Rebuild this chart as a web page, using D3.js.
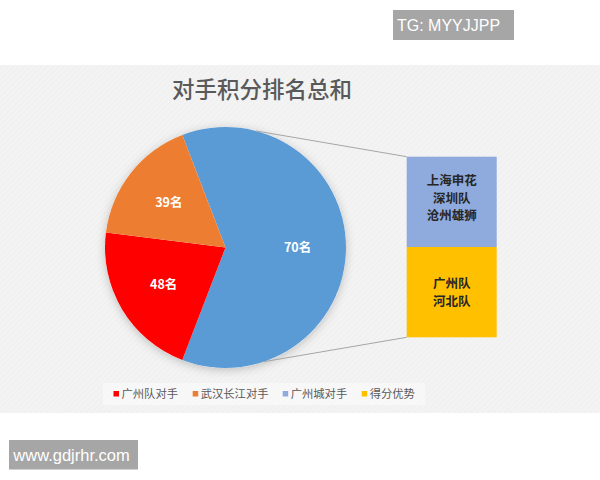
<!DOCTYPE html>
<html>
<head>
<meta charset="utf-8">
<script src="https://cdn.jsdelivr.net/npm/d3@7"></script>
<style>
  body { margin: 0; background: #fff; }
  text { font-family: "Noto Sans CJK SC", "Noto Sans", sans-serif; }
</style>
</head>
<body>
<div id="chart"></div>
<script>
// categories and values
const categories = ["广州队对手", "武汉长江对手", "广州城对手", "得分优势"];
const values = [48, 39, 70, 70];
const pieLabels = ["70名", "48名", "39名"];
const barLabels = [["上海申花", "深圳队", "沧州雄狮"], ["广州队", "河北队"]];
const colors = ["#ff0000", "#ed7d31", "#8faadc", "#ffc000"];
const otherColor = "#5b9bd5";

const w = 600, h = 480;
const cx = 225.5, cy = 247.5, r = 120.5;

const svg = d3.select("#chart").append("svg")
    .attr("width", w)
    .attr("height", h);

const defs = svg.append("defs");
const pat = defs.append("pattern")
    .attr("id", "tex")
    .attr("width", 4).attr("height", 4)
    .attr("patternUnits", "userSpaceOnUse")
    .attr("patternTransform", "rotate(45)");
pat.append("rect").attr("width", 4).attr("height", 4).attr("fill", "#f3f3f3");
pat.append("line").attr("x1", 0).attr("y1", 0).attr("x2", 0).attr("y2", 4)
    .attr("stroke", "#ebebeb").attr("stroke-width", 1);

const shadow = defs.append("filter").attr("id", "shadow")
    .attr("x", "-20%").attr("y", "-20%").attr("width", "140%").attr("height", "140%");
shadow.append("feDropShadow")
    .attr("dx", 0).attr("dy", 2)
    .attr("stdDeviation", 5)
    .attr("flood-color", "#000")
    .attr("flood-opacity", 0.22);

// chart panel
svg.append("rect")
    .attr("x", 0).attr("y", 65)
    .attr("width", w).attr("height", 348)
    .attr("fill", "url(#tex)");

svg.append("text")
    .attr("x", 262).attr("y", 98)
    .attr("text-anchor", "middle")
    .style("font-size", "22.5px")
    .style("font-weight", "500")
    .attr("fill", "#595959")
    .text("对手积分排名总和");

// pie: the two main series plus the combined "other" slice
const otherValue = values[2] + values[3];
const pieData = [
    { name: "other", value: otherValue, color: otherColor },
    { name: categories[0], value: values[0], color: colors[0] },
    { name: categories[1], value: values[1], color: colors[1] }
];
const total = d3.sum(pieData, d => d.value);
const start = Math.PI / 2 - Math.PI * otherValue / total;

const pie = d3.pie()
    .sort(null)
    .value(d => d.value)
    .startAngle(start)
    .endAngle(start + 2 * Math.PI);
const arcs = pie(pieData);

const arc = d3.arc().innerRadius(0).outerRadius(r);
const labelArc = d3.arc().innerRadius(72).outerRadius(72);

const g = svg.append("g").attr("transform", "translate(" + cx + "," + cy + ")");

g.append("circle").attr("r", r).attr("fill", "#fff").attr("filter", "url(#shadow)");

g.selectAll("path")
    .data(arcs)
    .enter()
    .append("path")
    .attr("d", arc)
    .attr("fill", d => d.data.color);

g.selectAll("text.lbl")
    .data(arcs)
    .enter()
    .append("text")
    .attr("class", "lbl")
    .attr("transform", d => "translate(" + labelArc.centroid(d) + ")")
    .attr("text-anchor", "middle")
    .attr("dy", "0.35em")
    .style("font-size", "12.5px")
    .style("font-weight", "bold")
    .attr("fill", "#fff")
    .text((d, i) => pieLabels[i]);

// secondary bar
const barX = 406.7, barW = 90;
const yBar = d3.scaleLinear().domain([0, otherValue]).range([156.7, 337.3]);
const segs = [
    { v0: 0, v1: values[2], color: colors[2], lines: barLabels[0] },
    { v0: values[2], v1: values[2] + values[3], color: colors[3], lines: barLabels[1] }
];

// connector lines
const topA = 14.6 * Math.PI / 180, botA = 161.4 * Math.PI / 180;
const lineColor = "#a6a6a6";
svg.append("line")
    .attr("x1", cx + r * Math.sin(topA)).attr("y1", cy - r * Math.cos(topA))
    .attr("x2", barX).attr("y2", yBar(0))
    .attr("stroke", lineColor).attr("stroke-width", 1);
svg.append("line")
    .attr("x1", cx + r * Math.sin(botA)).attr("y1", cy - r * Math.cos(botA))
    .attr("x2", barX).attr("y2", yBar(otherValue))
    .attr("stroke", lineColor).attr("stroke-width", 1);

const bar = svg.append("g");
bar.selectAll("rect")
    .data(segs)
    .enter()
    .append("rect")
    .attr("x", barX)
    .attr("y", d => yBar(d.v0))
    .attr("width", barW)
    .attr("height", d => yBar(d.v1) - yBar(d.v0))
    .attr("fill", d => d.color);

// text inside the bar segments
const lh = 17.7;
segs.forEach(s => {
    const first = s.lines.length === 3 ? yBar(s.v0) + 24 : yBar(s.v0) + 37;
    s.lines.forEach((t, i) => {
        bar.append("text")
            .attr("x", barX + barW / 2)
            .attr("y", first + i * lh)
            .attr("text-anchor", "middle")
            .attr("dy", "0.35em")
            .style("font-size", "12.5px")
            .style("font-weight", "bold")
            .attr("fill", "#262626")
            .text(t);
    });
});

// legend
const legendX = [113.5, 192.7, 282.7, 361.7];
const legend = svg.append("g");
legend.append("rect")
    .attr("x", 103).attr("y", 383)
    .attr("width", 322).attr("height", 22)
    .attr("fill", "#fafafa").attr("opacity", 0.7);
categories.forEach((c, i) => {
    legend.append("rect")
        .attr("x", legendX[i]).attr("y", 391)
        .attr("width", 5.5).attr("height", 5.5)
        .attr("fill", colors[i]);
    legend.append("text")
        .attr("x", legendX[i] + 8).attr("y", 394)
        .attr("dy", "0.35em")
        .style("font-size", "11.3px")
        .attr("fill", "#595959")
        .text(c);
});

// watermarks
svg.append("rect").attr("x", 393).attr("y", 10).attr("width", 121).attr("height", 30).attr("fill", "#a6a6a6");
svg.append("text").attr("x", 397).attr("y", 25).attr("dy", "0.35em")
    .style("font-family", "'Liberation Sans', Arial, sans-serif")
    .style("font-size", "16px").attr("fill", "#fff")
    .text("TG: MYYJJPP");
svg.append("rect").attr("x", 9).attr("y", 440).attr("width", 129).attr("height", 29.5).attr("fill", "#a6a6a6");
svg.append("text").attr("x", 13.3).attr("y", 455).attr("dy", "0.35em")
    .style("font-family", "'Liberation Sans', Arial, sans-serif")
    .style("font-size", "16.5px").attr("fill", "#fff")
    .text("www.gdjrhr.com");
</script>
</body>
</html>
